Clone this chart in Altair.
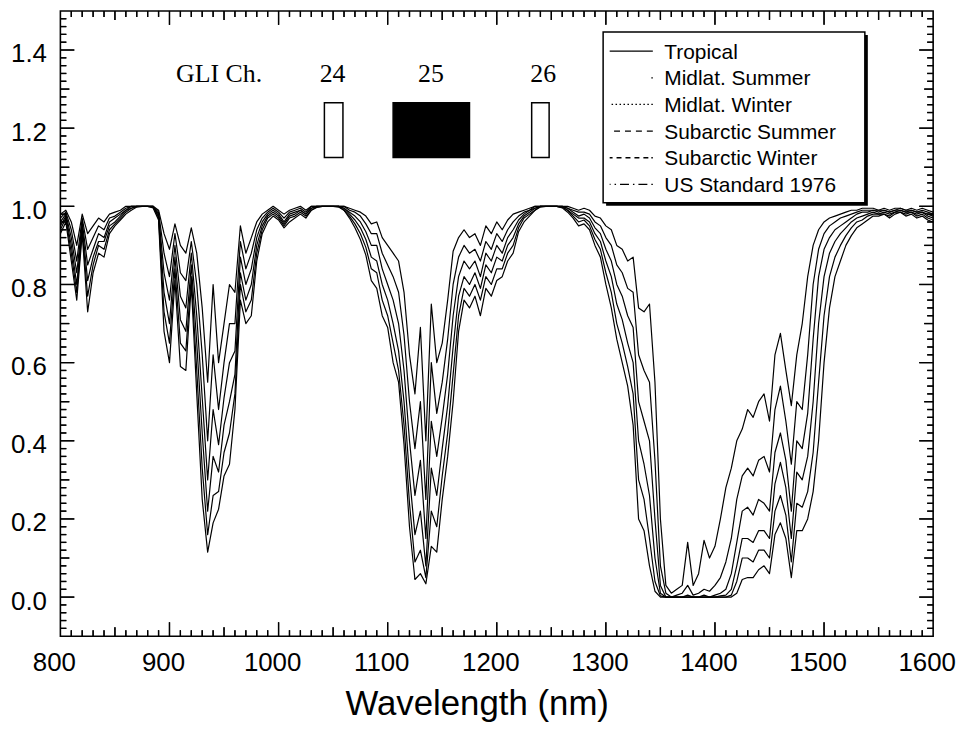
import altair as alt
import pandas as pd

# ---------------- data ----------------
wavelength = list(range(800, 1601, 5))

subarctic_winter = [
    .98, .99, .96, .90, .98, .93, .95, .97, .96, .98,
    .985, .99, 1, 1, 1, 1, 1, 1, .99, .93,
    .89, .955, .90, .88, .945, .88, .74, .55, .80, .60,
    .70, .80, .78, .95, .88, .92, .96, .98, .99, 1.0,
    .99, .98, .99, .995, 1, .99, 1, 1, 1, 1,
    1, 1, 1, .995, .99, .985, .975, .955, .96, .92,
    .90, .88, .86, .78, .62, .52, .69, .40, .75, .60,
    .65, .76, .885, .92, .94, .92, .93, .90, .95, .93,
    .96, .94, .965, .98, .985, .99, .995, 1, 1, 1,
    1, 1, 1, 1, .995, .99, .995, .99, .975, .97,
    .95, .94, .90, .89, .86, .87, .74, .73, .75, .55,
    .20, .03, .01, .02, .03, .14, .03, .06, .145, .10,
    .13, .20, .28, .33, .40, .43, .48, .46, .50, .52,
    .45, .62, .675, .58, .49, .62, .70, .82, .90, .94,
    .96, .97, .975, .98, .985, .99, .99, .995, .995, .995,
    .99, .995, .99, .995, .995, .99, .995, .99, .995, .99, .985,
]
midlat_winter = [
    .97, .985, .94, .86, .97, .89, .92, .95, .94, .97,
    .975, .985, .995, 1, 1, 1, 1, 1, .985, .88,
    .82, .93, .83, .81, .91, .80, .62, .40, .62, .48,
    .60, .70, .70, .91, .84, .88, .94, .97, .985, .995,
    .985, .97, .985, .99, .995, .985, 1, 1, 1, 1,
    1, 1, 1, .99, .985, .975, .955, .93, .93, .88,
    .85, .82, .78, .67, .50, .38, .50, .25, .60, .47,
    .55, .66, .80, .87, .90, .88, .89, .86, .91, .89,
    .93, .91, .94, .96, .975, .985, .99, 1, 1, 1,
    1, 1, 1, .995, .99, .985, .985, .98, .96, .95,
    .92, .90, .85, .83, .79, .78, .62, .58, .55, .35,
    .08, .01, 0, .005, .01, .03, .005, .01, .02, .015,
    .03, .05, .09, .15, .25, .31, .33, .31, .35, .36,
    .32, .48, .54, .45, .34, .50, .48, .62, .80, .89,
    .93, .95, .96, .97, .975, .98, .985, .99, .99, .99,
    .99, .99, .985, .99, .995, .99, .99, .985, .99, .985, .98,
]
us_standard = [
    .96, .98, .92, .83, .96, .85, .89, .93, .92, .96,
    .97, .98, .99, 1, 1, 1, 1, 1, .98, .83,
    .76, .90, .77, .74, .88, .72, .51, .30, .48, .39,
    .51, .60, .63, .87, .80, .84, .92, .96, .98, .99,
    .98, .96, .98, .985, .99, .98, .995, 1, 1, 1,
    1, 1, .995, .985, .975, .96, .935, .90, .90, .84,
    .80, .76, .70, .58, .40, .26, .35, .15, .45, .36,
    .46, .57, .72, .82, .86, .84, .86, .82, .88, .86,
    .90, .88, .92, .94, .965, .98, .99, .995, 1, 1,
    1, 1, 1, .995, .985, .975, .98, .97, .945, .93,
    .89, .86, .80, .77, .72, .69, .50, .45, .40, .20,
    .03, 0, 0, 0, 0, .005, 0, 0, .005, 0,
    .005, .01, .02, .06, .14, .22, .23, .21, .25, .24,
    .22, .37, .42, .35, .22, .40, .38, .47, .66, .82,
    .89, .92, .94, .95, .96, .97, .98, .985, .985, .99,
    .985, .99, .985, .99, .99, .985, .99, .985, .985, .98, .975,
]
subarctic_summer = [
    .95, .975, .90, .80, .95, .81, .87, .91, .91, .95,
    .96, .975, .99, .995, 1, 1, 1, 1, .975, .78,
    .70, .87, .71, .68, .85, .65, .42, .22, .36, .32,
    .44, .50, .57, .83, .76, .80, .90, .95, .975, .985,
    .975, .955, .975, .98, .99, .98, .995, 1, 1, 1,
    1, 1, .995, .98, .965, .945, .915, .87, .86, .80,
    .76, .70, .63, .50, .31, .16, .22, .08, .33, .26,
    .38, .49, .64, .77, .82, .80, .83, .79, .85, .83,
    .87, .86, .90, .92, .955, .975, .985, .995, 1, 1,
    1, 1, .998, .99, .98, .97, .97, .96, .93, .91,
    .86, .82, .75, .71, .65, .60, .40, .34, .26, .10,
    .01, 0, 0, 0, 0, 0, 0, 0, 0, 0,
    0, .003, .005, .02, .08, .15, .15, .14, .17, .17,
    .15, .29, .345, .28, .15, .32, .30, .36, .50, .70,
    .82, .88, .91, .93, .945, .96, .97, .975, .98, .985,
    .98, .985, .98, .985, .99, .985, .985, .98, .985, .975, .97,
]
midlat_summer = [
    .94, .97, .88, .78, .94, .77, .85, .90, .89, .94,
    .955, .97, .985, .995, 1, 1, 1, .998, .97, .73,
    .65, .84, .65, .63, .82, .58, .33, .16, .26, .27,
    .37, .42, .52, .80, .73, .76, .88, .94, .97, .98,
    .97, .95, .97, .975, .985, .975, .99, .998, 1, 1,
    1, 1, .99, .975, .955, .93, .895, .84, .83, .76,
    .72, .65, .58, .44, .24, .09, .12, .05, .22, .18,
    .31, .42, .57, .72, .79, .77, .80, .76, .82, .80,
    .84, .84, .88, .90, .945, .97, .98, .99, 1, 1,
    1, 1, .998, .99, .975, .96, .965, .95, .915, .89,
    .83, .78, .70, .65, .59, .52, .30, .25, .15, .04,
    .003, 0, 0, 0, 0, 0, 0, 0, 0, 0,
    0, 0, 0, .005, .04, .10, .10, .09, .12, .12,
    .10, .22, .26, .21, .09, .24, .23, .27, .37, .55,
    .72, .82, .87, .90, .925, .945, .96, .965, .975, .98,
    .98, .98, .975, .985, .985, .98, .985, .975, .98, .97, .965,
]
tropical = [
    .93, .96, .86, .76, .93, .73, .83, .88, .87, .93,
    .95, .965, .98, .99, .998, 1, 1, .996, .965, .68,
    .60, .81, .59, .58, .80, .52, .25, .115, .19, .225,
    .31, .34, .48, .76, .70, .72, .86, .93, .96, .975,
    .965, .945, .96, .97, .98, .97, .99, .997, 1, 1,
    1, .998, .99, .97, .945, .915, .875, .81, .79, .72,
    .69, .60, .55, .39, .18, .045, .06, .034, .13, .115,
    .25, .36, .50, .68, .76, .74, .77, .72, .79, .77,
    .81, .82, .86, .88, .935, .96, .975, .99, .998, 1,
    1, 1, .996, .985, .97, .95, .955, .94, .90, .87,
    .80, .74, .66, .60, .54, .44, .20, .17, .08, .015,
    0, 0, 0, 0, 0, 0, 0, 0, 0, 0,
    0, 0, 0, 0, .01, .045, .05, .05, .07, .08,
    .06, .16, .19, .15, .05, .17, .17, .20, .27, .40,
    .60, .74, .82, .86, .90, .925, .945, .955, .965, .975,
    .975, .98, .97, .98, .985, .975, .98, .97, .975, .965, .96,
]

names = ["Tropical", "Midlat. Summer", "Midlat. Winter",
         "Subarctic Summer", "Subarctic Winter", "US Standard 1976"]
series = [tropical, midlat_summer, midlat_winter,
          subarctic_summer, subarctic_winter, us_standard]

gli_channels = ["24", "25", "26"]
gli_start = [1042, 1105, 1232]
gli_end = [1059, 1175, 1248]
gli_low = [1.125, 1.125, 1.125]
gli_high = [1.265, 1.265, 1.265]

gli_text = ["GLI Ch.", "24", "25", "26"]
gli_text_x = [945.5, 1049.5, 1139.7, 1242.6]
gli_text_y = [1.339, 1.339, 1.339, 1.339]

x_labels = [800, 900, 1000, 1100, 1200, 1300, 1400, 1500, 1600]
y_labels = [0.0, 0.2, 0.4, 0.6, 0.8, 1.0, 1.2, 1.4]
x_title = "Wavelength (nm)"

# ---------------- styles ----------------
SANS = "Liberation Sans"
SERIF = "Liberation Serif"
W, H = 878, 629
X0, X1, Y0, Y1 = 800, 1600, -0.1, 1.5
legend_dash = {
    "Tropical": [1, 0],
    "Midlat. Summer": [1.5, 200],
    "Midlat. Winter": [1.5, 2.5],
    "Subarctic Summer": [6, 5],
    "Subarctic Winter": [1.5, 3, 5, 4, 5, 4, 5, 4, 5, 4, 5, 100],
    "US Standard 1976": [1.5, 4, 9, 4],
}

for s in series:
    assert len(s) == len(wavelength), len(s)

rows = []
for n, s in zip(names, series):
    for w, t in zip(wavelength, s):
        rows.append({"wl": w, "T": t, "atm": n})
df = pd.DataFrame(rows)

xs = alt.Scale(domain=[X0, X1], nice=False, zero=False)
ys = alt.Scale(domain=[Y0, Y1], nice=False, zero=False)


def X(field):
    return alt.X(field, scale=xs, axis=None)


lines = alt.Chart(df).mark_line(color="black", strokeWidth=1.2, strokeJoin="round").encode(
    x=alt.X("wl:Q", scale=xs, axis=alt.Axis(
        values=x_labels, format="d", ticks=False, tickSize=0, domain=False, grid=False,
        labelFont=SANS, labelFontSize=26, labelColor="black", labelPadding=14,
        labelOffset=-6, labelFlush=False, labelOverlap=False,
        title="Wavelength (nm)", titleFont=SANS, titleFontSize=35,
        titleFontWeight="normal", titleColor="black", titleX=419.3, titleY=79,
        titleBaseline="alphabetic", titleAlign="center")),
    y=alt.Y("T:Q", scale=ys, axis=alt.Axis(
        values=y_labels, format=".1f", ticks=False, tickSize=0, domain=False, grid=False,
        labelFont=SANS, labelFontSize=26, labelColor="black", labelPadding=14,
        labelOffset=4, labelFlush=False, labelOverlap=False, title="")),
    detail="atm:N",
)

# x tick labels and axis title, placed through the x scale below the frame
xlab = alt.Chart(pd.DataFrame({"v": x_labels})).mark_text(
    font=SANS, fontSize=26, color="black", align="center", baseline="alphabetic",
    dx=-6).encode(x=X("v:Q"), y=alt.value(H + 35.5), text=alt.Text("v:Q", format="d"))
xtitle = alt.Chart(pd.DataFrame({"t": [x_title]})).mark_text(
    font=SANS, fontSize=35, color="black", align="center", baseline="alphabetic").encode(
    x=alt.value(419.3), y=alt.value(H + 79), text="t:N")


def tick_layer(vals, length, side):
    d = pd.DataFrame({"v": vals})
    base = alt.Chart(d).mark_rule(color="black", strokeWidth=1.3)
    if side == "bottom":
        return base.encode(x=alt.X("v:Q", scale=xs, axis=None),
                           y=alt.value(H), y2=alt.value(H - length))
    if side == "top":
        return base.encode(x=alt.X("v:Q", scale=xs, axis=None),
                           y=alt.value(0), y2=alt.value(length))
    if side == "left":
        return base.encode(y=alt.Y("v:Q", scale=ys, axis=None),
                           x=alt.value(0), x2=alt.value(length))
    return base.encode(y=alt.Y("v:Q", scale=ys, axis=None),
                       x=alt.value(W), x2=alt.value(W - length))


x_major = [v for v in range(810, 1600, 10) if v % 100 == 0]
x_medium = [v for v in range(810, 1600, 10) if v % 50 == 0 and v % 100 != 0]
x_minor = [v for v in range(810, 1600, 10) if v % 50 != 0]
y_major = [k / 50 for k in range(-4, 75) if k % 10 == 0]
y_medium = [k / 50 for k in range(-4, 75) if k % 5 == 0 and k % 10 != 0]
y_minor = [k / 50 for k in range(-4, 75) if k % 5 != 0]

ticks = []
for side in ["bottom", "top"]:
    ticks += [tick_layer(x_major, 14, side), tick_layer(x_medium, 9, side),
              tick_layer(x_minor, 6, side)]
for side in ["left", "right"]:
    ticks += [tick_layer(y_major, 14, side), tick_layer(y_medium, 9, side),
              tick_layer(y_minor, 6, side)]

# the same inward ticks as thin rectangles in data units (drawn through the scales)
px_x = (X1 - X0) / W          # nm per pixel
px_y = (Y1 - Y0) / H          # transmittance per pixel
half_w = 0.65
trows = []
for vals, length in [(x_major, 14), (x_medium, 9), (x_minor, 6)]:
    for v in vals:
        trows.append({"x1": v - half_w * px_x, "x2": v + half_w * px_x,
                      "y1": Y0, "y2": Y0 + length * px_y})
        trows.append({"x1": v - half_w * px_x, "x2": v + half_w * px_x,
                      "y1": Y1 - length * px_y, "y2": Y1})
for vals, length in [(y_major, 14), (y_medium, 9), (y_minor, 6)]:
    for v in vals:
        trows.append({"x1": X0, "x2": X0 + length * px_x,
                      "y1": v - half_w * px_y, "y2": v + half_w * px_y})
        trows.append({"x1": X1 - length * px_x, "x2": X1,
                      "y1": v - half_w * px_y, "y2": v + half_w * px_y})
tick_rects = alt.Chart(pd.DataFrame(trows)).mark_rect(color="black").encode(
    x=X("x1:Q"), x2="x2:Q",
    y=alt.Y("y1:Q", scale=ys, axis=None), y2="y2:Q",
)

gli_df = pd.DataFrame({"ch": gli_channels, "start": gli_start, "end": gli_end,
                       "lo": gli_low, "hi": gli_high})
boxes = alt.Chart(gli_df).mark_rect(stroke="black", strokeWidth=1.5).encode(
    x=X("start:Q"), x2="end:Q",
    y=alt.Y("lo:Q", scale=ys, axis=None), y2="hi:Q",
    fill=alt.Fill("ch:N", scale=alt.Scale(domain=gli_channels,
                                          range=["white", "black", "white"]), legend=None),
)

gli_lab_df = pd.DataFrame({"t": gli_text, "x": gli_text_x, "y": gli_text_y})
gli_labels = alt.Chart(gli_lab_df).mark_text(
    font=SERIF, fontSize=26, color="black", align="center", baseline="middle").encode(
    x=X("x:Q"),
    y=alt.Y("y:Q", scale=ys, axis=None),
    text="t:N",
)

# legend box (shadow + frame)
leg_shadow = alt.Chart(pd.DataFrame({"a": [0]})).mark_rect(color="black").encode(
    x=alt.value(549), x2=alt.value(812.3), y=alt.value(24.2), y2=alt.value(195.9))
leg_box = alt.Chart(pd.DataFrame({"a": [0]})).mark_rect(
    fill="white", stroke="black", strokeWidth=1.5).encode(
    x=alt.value(546), x2=alt.value(809.3), y=alt.value(21.2), y2=alt.value(192.9))

leg_df = pd.DataFrame({"name": names})
leg_lines = alt.Chart(leg_df).mark_rule(color="black", strokeWidth=1.3).encode(
    x=alt.value(596), x2=alt.value(552.6),
    y=alt.Y("name:N", scale=alt.Scale(type="point", domain=names,
                                      range=[40.5, 174.5], padding=0), axis=None),
    strokeDash=alt.StrokeDash("name:N", scale=alt.Scale(
        domain=names, range=[legend_dash[n] for n in names]), legend=None),
)
leg_text = alt.Chart(leg_df).mark_text(
    font=SANS, fontSize=21, color="black", align="left", baseline="middle").encode(
    x=alt.value(607.6),
    y=alt.Y("name:N", scale=alt.Scale(type="point", domain=names,
                                      range=[42, 176], padding=0), axis=None),
    text="name:N",
)

chart = alt.layer(
    boxes, gli_labels, leg_shadow, leg_box, leg_lines, leg_text, lines, *ticks,
    tick_rects, xlab, xtitle
).resolve_scale(y="independent").properties(
    width=W, height=H,
    padding={"left": 52.7, "top": 0.8, "right": 24, "bottom": 87},
    autosize=alt.AutoSizeParams(type="none"),
    background="white",
).configure_view(stroke="black", strokeWidth=1.6)

chart.save("out.html", embed_options={"renderer": "svg", "actions": False})
